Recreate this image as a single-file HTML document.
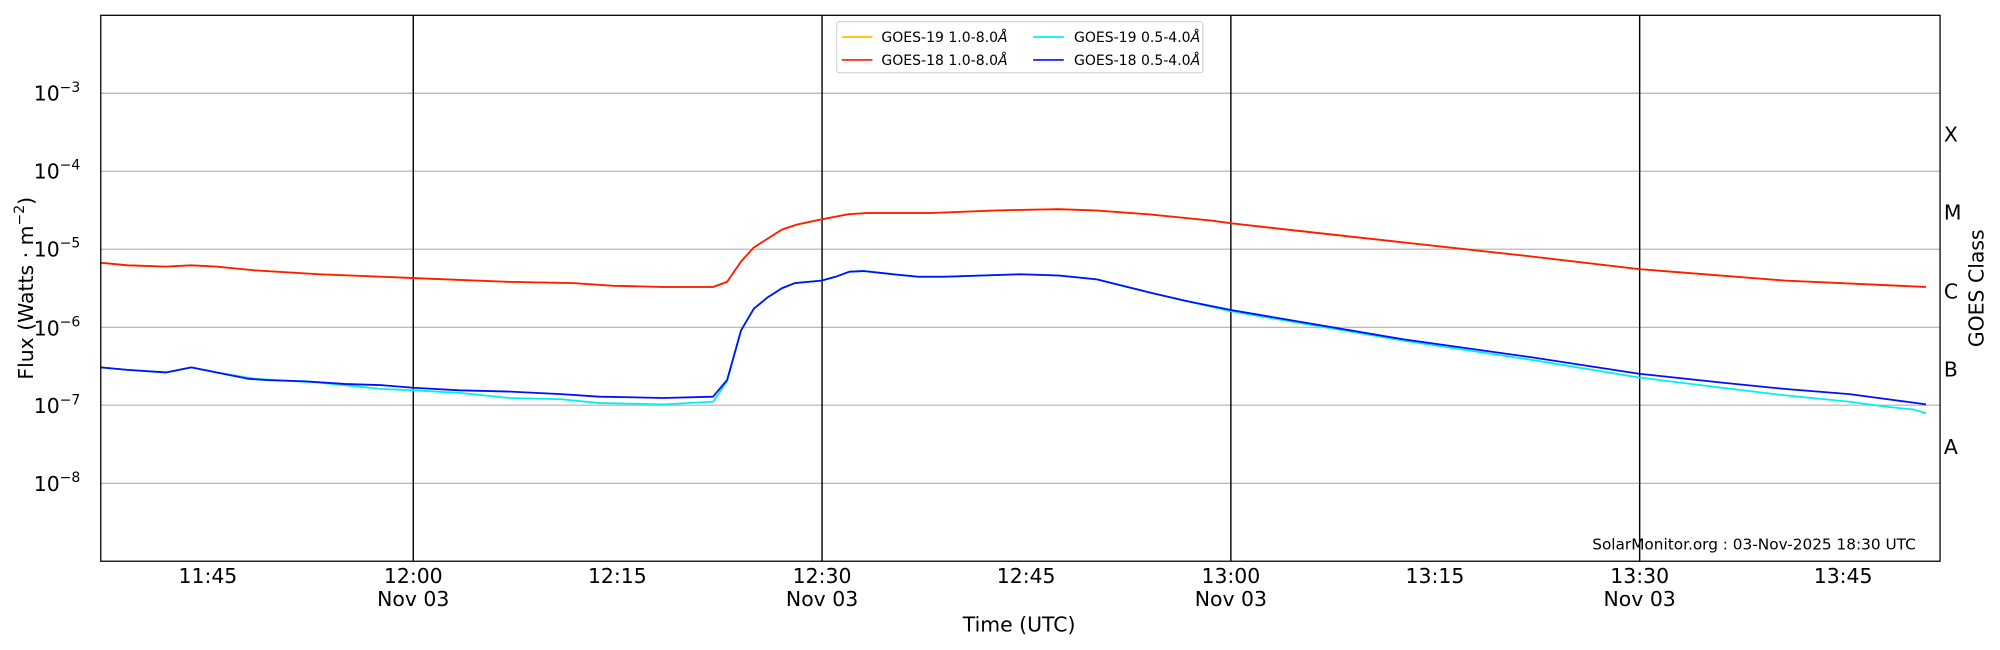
<!DOCTYPE html>
<html><head><meta charset="utf-8"><style>
html,body{margin:0;padding:0;background:#fff;width:2000px;height:650px;overflow:hidden}
svg{display:block}
text{font-family:"DejaVu Sans","Liberation Sans",sans-serif;fill:#000}
</style></head><body>
<svg width="2000" height="650" viewBox="0 0 1568 509.6" xmlns="http://www.w3.org/2000/svg">
<g stroke="#b0b0b0" stroke-width="0.9">
<line x1="79" x2="1521" y1="73.1" y2="73.1"/><line x1="79" x2="1521" y1="134.2" y2="134.2"/>
<line x1="79" x2="1521" y1="195.4" y2="195.4"/><line x1="79" x2="1521" y1="256.6" y2="256.6"/>
<line x1="79" x2="1521" y1="317.7" y2="317.7"/><line x1="79" x2="1521" y1="378.9" y2="378.9"/>
</g>
<g stroke="#000" stroke-width="1.1">
<line x1="324" x2="324" y1="12" y2="440"/><line x1="644.5" x2="644.5" y1="12" y2="440"/>
<line x1="965" x2="965" y1="12" y2="440"/><line x1="1285.5" x2="1285.5" y1="12" y2="440"/>
</g>
<g id="ticks" stroke="#000" stroke-width="0.8"></g>
<g fill="none" stroke-width="1.4" stroke-linejoin="round">
<polyline stroke="#ffc000" points="79,206 100,208 130,209 150,208 170,209 200,212 250,215 300,217 324,218 400,221 450,222 480,224 520,225 559,225 570,221 581,205 591,194 602,187 613,180 625,176 644,172 665,168 680,167 730,167 780,165 830,164 860,165 900,168 950,173 965,175 1000,179 1100,190 1200,201 1285,211 1400,220 1510,225"/>
<polyline stroke="#ff1a00" points="79,206 100,208 130,209 150,208 170,209 200,212 250,215 300,217 324,218 400,221 450,222 480,224 520,225 559,225 570,221 581,205 591,194 602,187 613,180 625,176 644,172 665,168 680,167 730,167 780,165 830,164 860,165 900,168 950,173 965,175 1000,179 1100,190 1200,201 1285,211 1400,220 1510,225"/>
<polyline stroke="#00f0f0" points="79,288 100,290 130,292 150,288 170,292 200,297 250,300 300,305 324,306 360,308 400,312 440,313 470,316 520,317 559,315 570,299 581,259 591,242 602,233 613,226 623,222 644,220 655,217 666,213 677,212.5 700,215 720,217 740,217 770,216 800,215 830,216 860,219 880,224 900,229 930,236 965,244 1000,250 1100,267 1200,282 1285,296 1350,304 1400,310 1450,315 1480,319 1500,321 1510,324"/>
<polyline stroke="#0010ff" points="79,288 100,290 130,292 150,288 170,292 195,297 210,298 240,299 270,301 300,302 324,304 360,306 400,307 440,309 470,311 520,312 559,311 570,298 581,259 591,242 602,233 613,226 623,222 644,220 655,217 666,213 677,212.5 700,215 720,217 740,217 770,216 800,215 830,216 860,219 880,224 900,229 930,236 965,243 1000,249 1100,266 1200,280 1285,293 1350,300 1400,305 1450,309 1480,313 1510,317"/>
</g>
<rect x="79" y="12" width="1442" height="428" fill="none" stroke="#000" stroke-width="1"/>
<g font-size="16" text-anchor="end">
<text x="63" y="79">10<tspan font-size="11" dy="-7">−3</tspan></text>
<text x="63" y="140">10<tspan font-size="11" dy="-7">−4</tspan></text>
<text x="63" y="201">10<tspan font-size="11" dy="-7">−5</tspan></text>
<text x="63" y="263">10<tspan font-size="11" dy="-7">−6</tspan></text>
<text x="63" y="324">10<tspan font-size="11" dy="-7">−7</tspan></text>
<text x="63" y="385">10<tspan font-size="11" dy="-7">−8</tspan></text>
</g>
<g font-size="16">
<text x="1524" y="111">X</text><text x="1524" y="172">M</text><text x="1524" y="234">C</text>
<text x="1524" y="295">B</text><text x="1524" y="356">A</text>
</g>
<g font-size="16" text-anchor="middle">
<text x="163" y="457">11:45</text><text x="324" y="457">12:00</text><text x="324" y="475">Nov 03</text>
<text x="484" y="457">12:15</text><text x="644.5" y="457">12:30</text><text x="644.5" y="475">Nov 03</text>
<text x="804.5" y="457">12:45</text><text x="965" y="457">13:00</text><text x="965" y="475">Nov 03</text>
<text x="1125" y="457">13:15</text><text x="1285.5" y="457">13:30</text><text x="1285.5" y="475">Nov 03</text>
<text x="1445" y="457">13:45</text>
<text x="799" y="495">Time (UTC)</text>
<text transform="translate(26,226) rotate(-90)">Flux (Watts · m<tspan font-size="11" dy="-7">−2</tspan><tspan dy="7">)</tspan></text>
<text transform="translate(1555,226) rotate(-90)">GOES Class</text>
</g>
<text x="1502" y="431" font-size="12" text-anchor="end">SolarMonitor.org : 03-Nov-2025 18:30 UTC</text>
<rect x="656" y="17" width="287" height="40" rx="2" fill="#fff" fill-opacity="0.85" stroke="#d0d0d0" stroke-width="0.8"/>
<g stroke-width="1.3">
<line x1="660" x2="684" y1="29" y2="29" stroke="#ffc000"/><line x1="660" x2="684" y1="47" y2="47" stroke="#ff1a00"/>
<line x1="810" x2="834" y1="29" y2="29" stroke="#00f0f0"/><line x1="810" x2="834" y1="47" y2="47" stroke="#0010ff"/>
</g>
<g font-size="11">
<text x="691" y="33">GOES-19 1.0-8.0<tspan font-style="italic">Å</tspan></text>
<text x="691" y="51">GOES-18 1.0-8.0<tspan font-style="italic">Å</tspan></text>
<text x="842" y="33">GOES-19 0.5-4.0<tspan font-style="italic">Å</tspan></text>
<text x="842" y="51">GOES-18 0.5-4.0<tspan font-style="italic">Å</tspan></text>
</g>
<script>
(function(){var g=document.getElementById('ticks'),s='';
var yf=function(l){return 12+(-2-l)*61.14;};
for(var d=-9;d<-2;d++){for(var m=1;m<10;m++){var y=yf(d+Math.log10(m));if(y<12)continue;var L=m==1?9:5;
s+='<line x1="79" x2="'+(79+L)+'" y1="'+y+'" y2="'+y+'"/>';
s+='<line x1="1521" x2="'+(1521-L)+'" y1="'+y+'" y2="'+y+'"/>';}}
[163,484,804.5,1125,1445].forEach(function(x){s+='<line x1="'+x+'" x2="'+x+'" y1="440" y2="433"/>';});
g.innerHTML=s;})();
</script>
</svg>
</body></html>
